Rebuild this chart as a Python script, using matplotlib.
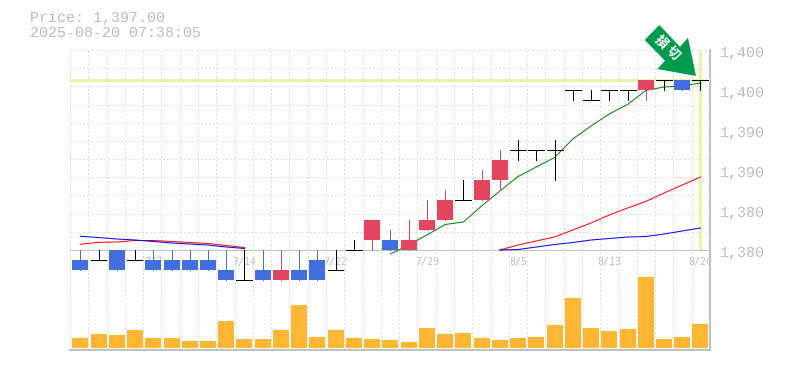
import matplotlib
matplotlib.use("Agg")
import matplotlib.pyplot as plt
from matplotlib.patches import Polygon, Rectangle

W, H = 785, 370
title_lines = ["Price: 1,397.00", "2025-08-20 07:38:05"]
y_ticks = [1400, 1396, 1392, 1388, 1384, 1380]
y_labels = ["1,400", "1,400", "1,390", "1,390", "1,380", "1,380"]
x_tick_idx = [4, 9, 14, 19, 24, 29, 34]
x_tick_labels = ["7/7", "7/14", "7/22", "7/29", "8/5", "8/13", "8/20"]
current_price = 1397

opens = [1379, 1379, 1380, 1379, 1379, 1379, 1379, 1379, 1378, 1377, 1378, 1377, 1378, 1379, 1378, 1380, 1381, 1381,
         1380, 1382, 1383, 1385, 1385, 1387, 1390, 1390, 1390, 1396, 1395, 1396, 1396, 1396, 1397, 1397, 1397]
closes = [1378, 1379, 1378, 1379, 1378, 1378, 1378, 1378, 1377, 1377, 1377, 1378, 1377, 1377, 1378, 1380, 1383, 1380,
          1381, 1383, 1385, 1385, 1387, 1389, 1390, 1390, 1390, 1396, 1395, 1396, 1396, 1397, 1397, 1396, 1397]
highs = [1380, 1380, 1380, 1380, 1380, 1380, 1380, 1380, 1380, 1380, 1380, 1380, 1380, 1380, 1380, 1381, 1383, 1382,
         1383, 1385, 1386, 1387, 1388, 1390, 1391, 1390, 1391, 1396, 1396, 1396, 1396, 1397, 1397, 1397, 1397]
lows = [1378, 1379, 1378, 1379, 1378, 1378, 1378, 1378, 1377, 1377, 1377, 1377, 1377, 1377, 1378, 1380, 1380, 1380,
        1380, 1382, 1383, 1385, 1385, 1386, 1389, 1389, 1387, 1395, 1395, 1395, 1395, 1395, 1396, 1396, 1396]
volumes = [10, 14, 13, 18, 10, 10, 7, 7, 27, 9, 9, 18, 43, 11, 18, 10, 9, 8,
           6, 20, 14, 15, 10, 8, 10, 11, 23, 50, 20, 17, 19, 71, 9, 11, 24]

ma_short_x = list(range(17, 35))
ma_short = [1379.6, 1380.5, 1381.5, 1382.55, 1382.8, 1384.4, 1385.9, 1387.35, 1388.3, 1389.25,
            1391.1, 1392.4, 1393.6, 1394.55, 1395.95, 1396.3, 1396.4, 1396.7]
ma_mid_x1 = list(range(0, 10))
ma_mid1 = [1380.57, 1380.77, 1380.8, 1380.95, 1380.95, 1380.85, 1380.75, 1380.65, 1380.45, 1380.25]
ma_mid_x2 = list(range(23, 35))
ma_mid2 = [1380, 1380.5, 1380.9, 1381.3, 1382, 1382.7, 1383.5, 1384.2, 1384.85, 1385.7, 1386.5, 1387.3]
ma_long_x1 = list(range(0, 10))
ma_long1 = [1381.37, 1381.25, 1381.1, 1381, 1380.85, 1380.7, 1380.6, 1380.5, 1380.3, 1380.15]
ma_long_x2 = list(range(23, 35))
ma_long2 = [1380, 1380.05, 1380.3, 1380.55, 1380.75, 1381, 1381.15, 1381.3, 1381.35, 1381.6, 1381.9, 1382.2]

UP, DOWN, DOJI = "#e24560", "#426ee0", "#000000"
GRID, AXIS, TXT, HILITE, VOL = "#dddddd", "#c0c0c0", "#bcbcbc", "#e4f5ab", "#ffb733"
ICON = "#009a4c"
MONO = "Liberation Mono"
px = 72 / 100
STEP = 18.241
BODY = 16 / STEP

fig = plt.figure(figsize=(W / 100, H / 100), dpi=100, facecolor="white")

def rect(l, t, r, b):
    return [l / W, 1 - b / H, (r - l) / W, (b - t) / H]

xlim = ((70 - 80.3) / STEP, (710 - 80.3) / STEP)
ax = fig.add_axes(rect(70, 50, 710, 250))
ax.set_xlim(*xlim)
ax.set_ylim(1380, 1400)
vax = fig.add_axes(rect(70, 250, 710, 350))
vax.set_xlim(*xlim)
vax.set_ylim(-2, 98)
for a in (ax, vax):
    a.patch.set_alpha(0)
    a.set_xticks([])
    a.set_yticks([])
    for s in a.spines.values():
        s.set_visible(False)

# grid
dash = (0, (2, 2.2))
for k in range(0, 35):
    for a in (ax, vax):
        a.plot([k / 35, k / 35], [0, 1], transform=a.transAxes, color=GRID, lw=1 * px, ls=dash, zorder=1)
for k in range(0, 11):
    ax.axhline(1400 - k * 20 / 11, color=GRID, lw=1 * px, ls=dash, zorder=1)

# frame
ax.axhline(1380, color=AXIS, lw=1 * px, zorder=2, clip_on=False)
vax.axhline(-2, color=AXIS, lw=2 * px, zorder=2, clip_on=False)
vax.axvline(xlim[1], color=AXIS, lw=2 * px, zorder=2, clip_on=False)
ax.axvline(xlim[1], color=AXIS, lw=2 * px, zorder=2, clip_on=False)

# highlights
ax.axhline(current_price, color=HILITE, lw=3 * px, zorder=3)
ax.axvline(34, ymin=0.005, color=HILITE, lw=3 * px, zorder=3)

# x labels behind candles
for i, lab in zip(x_tick_idx, x_tick_labels):
    ax.annotate(lab, (i, 1380), xytext=(0, -12.5 * px), textcoords="offset points", ha="center", va="center",
                fontsize=10 * px, family="DejaVu Sans Mono", color=TXT, zorder=3, annotation_clip=False)

# volumes
vax.bar(range(len(volumes)), volumes, width=BODY, color=VOL, zorder=4)

# moving averages, under the candles
for xs, ys, col in [(ma_mid_x1, ma_mid1, "#ff0000"), (ma_mid_x2, ma_mid2, "#ff0000"),
                    (ma_long_x1, ma_long1, "#0000ff"), (ma_long_x2, ma_long2, "#0000ff"),
                    (ma_short_x, ma_short, "#008000")]:
    ax.plot(xs, ys, color=col, lw=1 * px, zorder=4.5, clip_on=False)

# candles
for i, (o, c, h, l) in enumerate(zip(opens, closes, highs, lows)):
    col = DOJI if o == c else (UP if c > o else DOWN)
    ax.vlines(i, l, h, color=col, lw=1 * px, zorder=5, clip_on=False, antialiased=False)
    if o == c:
        ax.hlines(o, i - BODY / 2, i + BODY / 2, color=col, lw=1 * px, zorder=5, clip_on=False, antialiased=False)
    else:
        ax.add_patch(Rectangle((i - BODY / 2, min(o, c)), BODY, abs(c - o), fc=col, ec="none",
                               zorder=5, clip_on=False))

# y labels
for v, lab in zip(y_ticks, y_labels):
    ax.annotate(lab, (1, v), xycoords=("axes fraction", "data"), xytext=(10 * px, -3.5 * px), textcoords="offset points",
                ha="left", va="center", fontsize=15 * px, family=MONO, color=TXT, annotation_clip=False)

# title
fig.text(30 / W, 1 - 18 / H, title_lines[0], fontsize=15 * px, family=MONO, color=TXT, va="center")
fig.text(30 / W, 1 - 33 / H, title_lines[1], fontsize=15 * px, family=MONO, color=TXT, va="center")

# icon
icon_px = [(659.3, 25), (644.7, 40), (665, 60.7), (657.3, 69), (696, 76), (688, 37.7), (680, 46.7)]
fig.add_artist(Polygon([(a / W, 1 - b / H) for a, b in icon_px], closed=True, transform=fig.transFigure,
                       fc=ICON, ec="none", zorder=10))
for (tx, ty), ch in zip([(660.7, 41.7), (673, 53)], "損切"):
    fig.text(tx / W, 1 - ty / H, ch, fontsize=13 * px, family=["Noto Sans CJK JP", "DejaVu Sans"], color="white",
             rotation=-45, ha="center", va="center", weight="bold", zorder=11)

fig.savefig("out.png", dpi=100, facecolor="white")
